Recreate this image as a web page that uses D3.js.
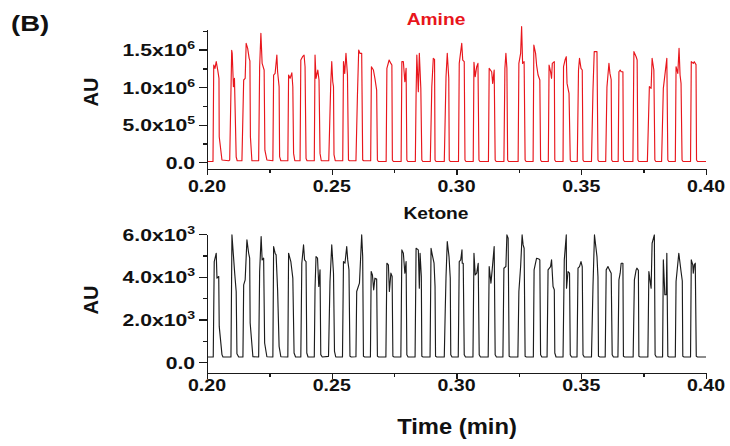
<!DOCTYPE html>
<html>
<head>
<meta charset="utf-8">
<script src="https://cdn.jsdelivr.net/npm/d3@7"></script>
<style>
  html, body { margin: 0; padding: 0; background: #fff; }
  svg { display: block; font-family: "Liberation Sans", Arial, sans-serif; font-weight: bold; }
  .axis .domain, .axis line { stroke: #1a1a1a; stroke-width: 1.3; shape-rendering: crispEdges; }
</style>
</head>
<body>
<svg id="chart" width="730" height="446"></svg>
<script>
// Time axis (min)
const timeTicks = [0.20, 0.25, 0.30, 0.35, 0.40];
const timeMinorTicks = [0.225, 0.275, 0.325, 0.375];
const timeTickLabels = ["0.20", "0.25", "0.30", "0.35", "0.40"];

// Amine trace: [time (min), AU]
const amineSeries = [
  [0.2000,0.01e6],[0.2024,0.01e6],[0.2027,1.294e6],[0.2032,1.25e6],[0.2037,1.339e6],[0.2043,1.228e6],[0.2048,1.117e6],[0.2049,0.34e6],[0.2060,0.03e6],[0.2087,0.02e6],
  [0.2091,0.03e6],[0.2099,1.49e6],[0.2101,1.45e6],[0.2106,1.006e6],[0.2110,1.117e6],[0.2117,0.07e6],[0.2121,0.02e6],
  [0.2140,0.02e6],[0.2147,1.095e6],[0.2153,1.117e6],[0.2157,1.583e6],[0.2163,1.516e6],[0.2169,1.383e6],[0.2172,1.35e6],[0.2174,0.34e6],[0.2180,0.02e6],
  [0.2207,0.02e6],[0.2211,1.272e6],[0.2216,1.716e6],[0.2221,1.316e6],[0.2229,1.228e6],[0.2232,0.16e6],[0.2240,0.03e6],
  [0.2264,0.02e6],[0.2267,1.161e6],[0.2273,1.183e6],[0.2280,1.427e6],[0.2283,1.205e6],[0.2289,1.006e6],[0.2291,0.074e6],[0.2296,0.02e6],
  [0.2324,0.02e6],[0.2327,1.161e6],[0.2333,1.117e6],[0.2340,1.19e6],[0.2344,1.006e6],[0.2347,0.118e6],[0.2352,0.02e6],
  [0.2373,0.02e6],[0.2376,1.361e6],[0.2383,1.405e6],[0.2389,1.427e6],[0.2393,1.272e6],[0.2397,0.05e6],[0.2401,0.02e6],
  [0.2430,0.02e6],[0.2433,1.427e6],[0.2437,1.117e6],[0.2444,1.228e6],[0.2449,1.095e6],[0.2453,0.118e6],[0.2458,0.02e6],
  [0.2488,0.02e6],[0.2496,1.05e6],[0.2500,1.339e6],[0.2504,1.072e6],[0.2507,1.006e6],[0.2509,0.1e6],[0.2514,0.02e6],
  [0.2544,0.02e6],[0.2547,1.339e6],[0.2552,1.183e6],[0.2557,1.45e6],[0.2563,1.161e6],[0.2567,0.03e6],[0.2571,0.02e6],
  [0.2597,0.02e6],[0.2603,0.895e6],[0.2608,1.494e6],[0.2613,1.45e6],[0.2620,1.45e6],[0.2624,0.03e6],[0.2628,0.02e6],
  [0.2656,0.02e6],[0.2659,1.272e6],[0.2667,1.228e6],[0.2673,1.117e6],[0.2680,0.961e6],[0.2683,0.03e6],[0.2687,0.01e6],
  [0.2718,0.01e6],[0.2721,1.25e6],[0.2730,1.361e6],[0.2737,1.316e6],[0.2741,1.294e6],[0.2743,0.03e6],[0.2747,0.01e6],
  [0.2778,0.01e6],[0.2781,1.339e6],[0.2787,1.339e6],[0.2793,1.072e6],[0.2798,1.25e6],[0.2801,0.03e6],[0.2805,0.01e6],
  [0.2835,0.01e6],[0.2838,0.9e6],[0.2841,1.427e6],[0.2847,0.939e6],[0.2851,1.45e6],[0.2857,0.984e6],[0.2861,0.03e6],[0.2865,0.01e6],
  [0.2895,0.01e6],[0.2901,1.006e6],[0.2907,1.383e6],[0.2912,1.37e6],[0.2914,0.03e6],[0.2918,0.01e6],
  [0.2951,0.01e6],[0.2958,1.139e6],[0.2963,1.45e6],[0.2969,1.117e6],[0.2971,0.03e6],[0.2975,0.01e6],
  [0.3008,0.01e6],[0.3011,1.316e6],[0.3021,1.583e6],[0.3025,1.361e6],[0.3031,1.339e6],[0.3034,0.03e6],[0.3038,0.01e6],
  [0.3067,0.01e6],[0.3070,1.33e6],[0.3075,1.139e6],[0.3081,1.272e6],[0.3086,1.316e6],[0.3090,0.03e6],[0.3094,0.01e6],
  [0.3128,0.01e6],[0.3131,1.25e6],[0.3141,1.205e6],[0.3145,1.05e6],[0.3151,1.228e6],[0.3155,0.03e6],[0.3159,0.01e6],
  [0.3190,0.01e6],[0.3194,1.25e6],[0.3198,1.45e6],[0.3202,1.25e6],[0.3205,0.03e6],[0.3209,0.01e6],
  [0.3247,0.01e6],[0.3250,1.316e6],[0.3257,1.45e6],[0.3261,1.805e6],[0.3265,1.316e6],[0.3271,1.339e6],[0.3275,0.03e6],[0.3279,0.01e6],
  [0.3307,0.01e6],[0.3310,1.561e6],[0.3317,1.45e6],[0.3321,1.294e6],[0.3327,1.161e6],[0.3334,1.095e6],[0.3337,0.03e6],[0.3341,0.01e6],
  [0.3368,0.01e6],[0.3371,1.294e6],[0.3377,1.205e6],[0.3381,1.117e6],[0.3384,1.316e6],[0.3392,1.339e6],[0.3394,0.03e6],[0.3398,0.01e6],
  [0.3427,0.01e6],[0.3429,1.272e6],[0.3435,1.361e6],[0.3440,1.405e6],[0.3443,1.05e6],[0.3451,0.917e6],[0.3456,0.03e6],[0.3460,0.01e6],
  [0.3484,0.01e6],[0.3489,1.228e6],[0.3493,1.383e6],[0.3499,1.25e6],[0.3504,1.228e6],[0.3507,0.03e6],[0.3511,0.01e6],
  [0.3541,0.01e6],[0.3547,0.961e6],[0.3552,1.472e6],[0.3563,1.472e6],[0.3567,0.03e6],[0.3571,0.01e6],
  [0.3598,0.01e6],[0.3603,1.0e6],[0.3607,1.161e6],[0.3611,1.316e6],[0.3615,1.183e6],[0.3620,1.1e6],[0.3622,0.03e6],[0.3626,0.01e6],
  [0.3648,0.01e6],[0.3651,1.205e6],[0.3656,1.228e6],[0.3660,1.205e6],[0.3667,1.205e6],[0.3669,0.03e6],[0.3673,0.01e6],
  [0.3707,0.01e6],[0.3711,1.472e6],[0.3720,1.405e6],[0.3724,1.361e6],[0.3727,0.03e6],[0.3731,0.01e6],
  [0.3765,0.01e6],[0.3773,1.006e6],[0.3780,0.984e6],[0.3784,1.383e6],[0.3791,1.228e6],[0.3795,0.03e6],[0.3799,0.01e6],
  [0.3822,0.01e6],[0.3829,0.984e6],[0.3843,1.383e6],[0.3847,0.03e6],[0.3851,0.01e6],
  [0.3877,0.01e6],[0.3880,1.272e6],[0.3887,1.183e6],[0.3892,1.516e6],[0.3896,1.161e6],[0.3900,1.05e6],[0.3904,0.03e6],[0.3908,0.01e6],
  [0.3938,0.01e6],[0.3941,1.339e6],[0.3949,1.316e6],[0.3953,1.339e6],[0.3960,1.3e6],[0.3962,0.03e6],[0.3966,0.01e6],[0.4000,0.01e6]
];

// Ketone trace: [time (min), AU]
const ketoneSeries = [
  [0.2000,250],[0.2025,250],[0.2029,4712],[0.2037,5100],[0.2040,3934],[0.2047,4012],[0.2049,1679],[0.2060,360],[0.2064,250],
  [0.2096,250],[0.2100,5956],[0.2111,4167],[0.2117,3312],[0.2120,400],[0.2127,250],
  [0.2144,250],[0.2147,3623],[0.2153,3856],[0.2160,5722],[0.2167,5100],[0.2171,4867],[0.2173,1835],[0.2184,260],
  [0.2207,250],[0.2211,4245],[0.2217,5878],[0.2221,4789],[0.2227,4867],[0.2231,902],[0.2240,260],
  [0.2264,250],[0.2267,5411],[0.2273,5100],[0.2277,5023],[0.2283,3390],[0.2289,746],[0.2296,260],
  [0.2324,250],[0.2327,5100],[0.2336,4712],[0.2344,3934],[0.2349,435],[0.2355,250],
  [0.2376,250],[0.2380,4634],[0.2387,5489],[0.2391,4789],[0.2397,4712],[0.2400,435],[0.2405,250],
  [0.2430,250],[0.2433,3468],[0.2437,4945],[0.2443,4867],[0.2448,3545],[0.2453,4323],[0.2456,358],[0.2462,250],
  [0.2487,280],[0.2493,3779],[0.2500,5489],[0.2507,4167],[0.2511,513],[0.2516,250],
  [0.2543,250],[0.2547,4712],[0.2553,4634],[0.2560,5411],[0.2564,4789],[0.2569,4323],[0.2573,280],[0.2578,250],
  [0.2597,260],[0.2600,3312],[0.2611,3701],[0.2620,5956],[0.2624,4945],[0.2627,280],[0.2632,250],
  [0.2655,250],[0.2658,4245],[0.2663,4090],[0.2668,3390],[0.2673,3934],[0.2680,3900],[0.2683,280],[0.2688,250],
  [0.2717,250],[0.2721,4634],[0.2727,4556],[0.2731,3312],[0.2737,4167],[0.2742,4012],[0.2745,280],[0.2750,250],
  [0.2777,250],[0.2781,5256],[0.2787,5100],[0.2793,4167],[0.2798,4712],[0.2801,358],[0.2806,250],
  [0.2834,250],[0.2838,5334],[0.2847,5256],[0.2851,3468],[0.2854,5100],[0.2859,4012],[0.2861,280],[0.2866,250],
  [0.2894,250],[0.2898,5334],[0.2903,5023],[0.2910,4634],[0.2914,3545],[0.2916,280],[0.2921,250],
  [0.2951,250],[0.2955,2500],[0.2958,4000],[0.2963,5645],[0.2970,4945],[0.2975,3934],[0.2977,358],[0.2982,250],
  [0.3007,250],[0.3011,4712],[0.3017,4789],[0.3022,5256],[0.3023,4634],[0.3027,4634],[0.3031,358],[0.3036,250],
  [0.3066,250],[0.3070,5100],[0.3075,4090],[0.3081,4167],[0.3087,4634],[0.3091,358],[0.3096,250],
  [0.3127,250],[0.3131,4478],[0.3138,3701],[0.3143,4323],[0.3151,5411],[0.3155,358],[0.3160,250],
  [0.3186,250],[0.3190,4401],[0.3198,4478],[0.3202,5956],[0.3207,5800],[0.3211,280],[0.3216,250],
  [0.3246,250],[0.3250,3312],[0.3257,4478],[0.3263,5956],[0.3267,5489],[0.3271,5334],[0.3275,280],[0.3280,250],
  [0.3308,250],[0.3311,4323],[0.3321,4867],[0.3330,4830],[0.3334,4789],[0.3337,350],[0.3342,250],
  [0.3363,250],[0.3367,4323],[0.3377,4478],[0.3381,4789],[0.3387,3545],[0.3392,3390],[0.3394,435],[0.3399,250],
  [0.3427,250],[0.3432,4789],[0.3440,5956],[0.3441,3468],[0.3447,4245],[0.3453,4167],[0.3456,358],[0.3461,250],
  [0.3483,250],[0.3487,4401],[0.3493,4478],[0.3499,4712],[0.3504,4478],[0.3507,358],[0.3512,250],
  [0.3541,250],[0.3547,3545],[0.3553,5956],[0.3563,4945],[0.3567,4000],[0.3569,280],[0.3575,250],
  [0.3596,250],[0.3600,4323],[0.3607,4478],[0.3613,4323],[0.3620,4167],[0.3624,358],[0.3629,250],
  [0.3647,250],[0.3651,3856],[0.3656,4167],[0.3660,4634],[0.3667,4634],[0.3669,280],[0.3674,250],
  [0.3708,250],[0.3713,3856],[0.3720,4323],[0.3723,4401],[0.3729,4300],[0.3731,280],[0.3736,250],
  [0.3767,250],[0.3771,4245],[0.3780,3468],[0.3784,5567],[0.3793,5956],[0.3796,358],[0.3801,250],
  [0.3826,250],[0.3829,4789],[0.3835,3157],[0.3841,3157],[0.3843,5100],[0.3847,280],[0.3852,250],
  [0.3877,250],[0.3880,3779],[0.3891,5100],[0.3900,4245],[0.3905,3800],[0.3907,280],[0.3912,250],
  [0.3938,250],[0.3941,4789],[0.3947,4556],[0.3949,4167],[0.3953,4556],[0.3957,4634],[0.3961,280],[0.3966,250],[0.4000,250]
];

// Y-axis ticks: [mantissa, exponent]
const amineTicks = [0, 5e5, 1e6, 1.5e6];
const amineMinorTicks = [2.5e5, 7.5e5, 1.25e6, 1.75e6];
const amineTickLabels = [["0.0", ""], ["5.0x10", "5"], ["1.0x10", "6"], ["1.5x10", "6"]];
const ketoneTicks = [0, 2e3, 4e3, 6e3];
const ketoneMinorTicks = [1e3, 3e3, 5e3];
const ketoneTickLabels = [["0.0", ""], ["2.0x10", "3"], ["4.0x10", "3"], ["6.0x10", "3"]];

const svg = d3.select("#chart");
const x = d3.scaleLinear().domain([0.20, 0.40]).range([207, 706]);

const panels = [
  { series: amineSeries, color: "#e8161c", title: "Amine", titleColor: "#e8161c",
    yDomain: [-0.09e6, 1.77e6], yRange: [169, 29.3],
    ticks: amineTicks, minor: amineMinorTicks, labels: amineTickLabels,
    titleY: 25, auY: 92, xLabelDy: 23 },
  { series: ketoneSeries, color: "#1c1c1c", title: "Ketone", titleColor: "#111",
    yDomain: [-486, 6000], yRange: [372.7, 234],
    ticks: ketoneTicks, minor: ketoneMinorTicks, labels: ketoneTickLabels,
    titleY: 219, auY: 300, xLabelDy: 18.5 }
];

// Text helper with horizontal stretch
function stretchedText(parent, px, py, sx, anchor, size) {
  return parent.append("text")
    .attr("transform", `translate(${px},${py}) scale(${sx},1)`)
    .attr("text-anchor", anchor)
    .attr("font-size", size);
}

panels.forEach(p => {
  const y = d3.scaleLinear().domain(p.yDomain).range(p.yRange);
  const g = svg.append("g");

  // trace
  const line = d3.line().x(d => x(d[0])).y(d => y(d[1]));
  g.append("path")
    .datum(p.series)
    .attr("fill", "none")
    .attr("stroke", p.color)
    .attr("stroke-width", 1.15)
    .attr("stroke-linejoin", "round")
    .attr("d", line);

  const y0 = p.yRange[0];

  // y axis: major + minor ticks
  g.append("g").attr("class", "axis").attr("transform", "translate(207,0)")
    .call(d3.axisLeft(y).tickValues(p.ticks).tickSize(8).tickSizeOuter(0).tickFormat(""));
  g.append("g").attr("class", "axis").attr("transform", "translate(207,0)")
    .call(d3.axisLeft(y).tickValues(p.minor).tickSize(4).tickSizeOuter(0).tickFormat(""))
    .select(".domain").remove();

  // x axis: major + minor ticks
  g.append("g").attr("class", "axis").attr("transform", `translate(0,${y0})`)
    .call(d3.axisBottom(x).tickValues(timeTicks).tickSize(6).tickSizeOuter(0).tickFormat(""));
  g.append("g").attr("class", "axis").attr("transform", `translate(0,${y0})`)
    .call(d3.axisBottom(x).tickValues(timeMinorTicks).tickSize(4).tickSizeOuter(0).tickFormat(""))
    .select(".domain").remove();

  // y tick labels with superscript exponent
  p.ticks.forEach((v, i) => {
    const t = stretchedText(g, 195, y(v) + 6.5, 1.28, "end", 16.5).attr("fill", "#111");
    t.append("tspan").text(p.labels[i][0]);
    if (p.labels[i][1]) {
      t.append("tspan").attr("font-size", 11).attr("dy", -7).text(p.labels[i][1]);
    }
  });

  // x tick labels
  timeTicks.forEach((v, i) => {
    stretchedText(g, x(v), y0 + p.xLabelDy, 1.15, "middle", 17)
      .attr("fill", "#111").text(timeTickLabels[i]);
  });

  // panel title
  stretchedText(g, 436, p.titleY, 1.2, "middle", 16)
    .attr("fill", p.titleColor).text(p.title);

  // y axis title
  g.append("text")
    .attr("transform", `translate(98,${p.auY}) rotate(-90)`)
    .attr("text-anchor", "middle")
    .attr("font-size", 20)
    .attr("fill", "#111")
    .text("AU");
});

// x axis title
stretchedText(svg, 457, 434, 1.08, "middle", 22).attr("fill", "#111").text("Time (min)");

// panel letter
stretchedText(svg, 11, 31, 1.25, "start", 22).attr("fill", "#111").text("(B)");
</script>
</body>
</html>
